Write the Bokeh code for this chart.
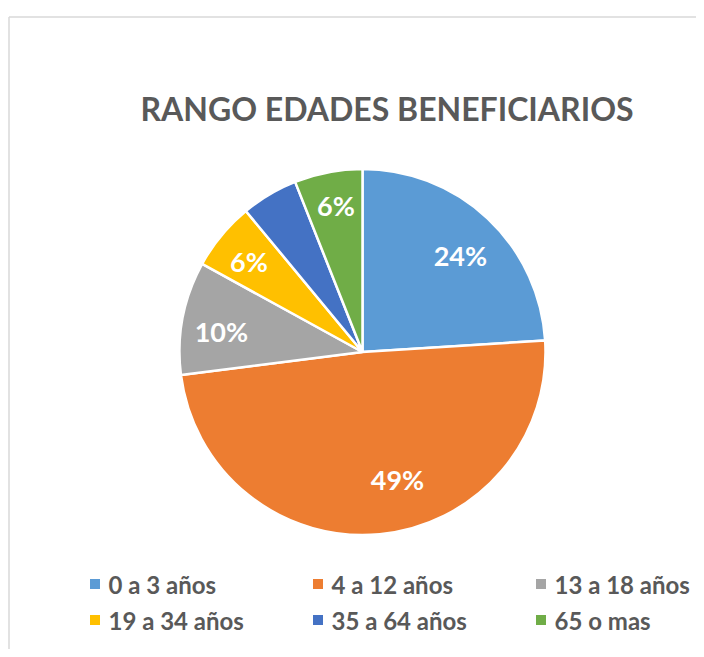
import math
from bokeh.plotting import figure
from bokeh.models import Range1d, ColumnDataSource
from bokeh.core.properties import value
from bokeh.embed import file_html
from bokeh.resources import INLINE

# ---- data ----
title_text = "RANGO EDADES BENEFICIARIOS"
categories = ["0 a 3 años", "4 a 12 años", "13 a 18 años", "19 a 34 años", "35 a 64 años", "65 o mas"]
percent = [24, 49, 10, 6, 5, 6]
show_label = [True, True, True, True, False, True]
colors = ["#5B9BD5", "#ED7D31", "#A5A5A5", "#FFC000", "#4472C4", "#70AD47"]

# ---- layout (pixels) ----
W, H = 696, 649
CX, CY, R = 362, 297.5, 183
FONT = "Lato"
GREY = "#595959"

p = figure(width=W, height=H, x_range=Range1d(0, W), y_range=Range1d(0, H),
           output_backend="svg", toolbar_location=None, min_border=0)
p.axis.visible = False
p.grid.visible = False
p.outline_line_color = None
p.background_fill_color = "white"

# chart frame: only top and left edges are inside the window
p.segment(x0=[8.5, 8.5], y0=[632.5, 632.5], x1=[W + 20, 8.5], y1=[632.5, -20],
          line_color="#D9D9D9", line_width=1.5)

# wedges
total = sum(percent)
starts, ends, mids = [], [], []
acc = 0.0
for v in percent:
    a0 = math.pi / 2 - 2 * math.pi * acc / total
    acc += v
    a1 = math.pi / 2 - 2 * math.pi * acc / total
    starts.append(a0)
    ends.append(a1)
    mids.append((a0 + a1) / 2)

src = ColumnDataSource(dict(start=starts, end=ends, color=colors))
p.wedge(x=CX, y=CY, radius=R, start_angle="start", end_angle="end",
        direction="clock", fill_color="color", line_color="white",
        line_width=2.5, source=src)

# data labels
rad_frac = [0.751, 0.725, 0.779, 0.795, 0.8, 0.811]
ang_shift = [-2.2, 9.9, 2.5, 0.9, 0.0, -0.5]
lx, ly, lt = [], [], []
for i, v in enumerate(percent):
    if not show_label[i]:
        continue
    a = mids[i] + math.radians(ang_shift[i])
    r = R * rad_frac[i]
    lx.append(CX + r * math.cos(a))
    ly.append(CY + r * math.sin(a))
    lt.append(f"{v}%")
p.text(x=lx, y=ly, text=lt, text_color="white", text_font=value(FONT),
       text_font_style="bold", text_font_size="27px",
       text_align="center", text_baseline="middle")

# title
p.text(x=[386.5], y=[541], text=[title_text], text_color=GREY,
       text_font=value(FONT), text_font_style="bold", text_font_size="32px",
       text_align="center", text_baseline="middle")

# legend (3 columns x 2 rows)
col_x = [94.5, 317.5, 540.5]
row_y = [65.5, 29.5]
sq_x, sq_y, tx, ty = [], [], [], []
for i, c in enumerate(categories):
    cx = col_x[i % 3]
    cy = row_y[i // 3]
    sq_x.append(cx)
    sq_y.append(cy)
    tx.append(cx + 13.5)
    ty.append(cy)
p.rect(x=sq_x, y=sq_y, width=10, height=10, fill_color=colors, line_color=None)
p.text(x=tx, y=ty, text=categories, text_color=GREY, text_font=value(FONT),
       text_font_style="bold", text_font_size="24px",
       text_align="left", text_baseline="middle")

open("out.html", "w").write(file_html(p, INLINE))
